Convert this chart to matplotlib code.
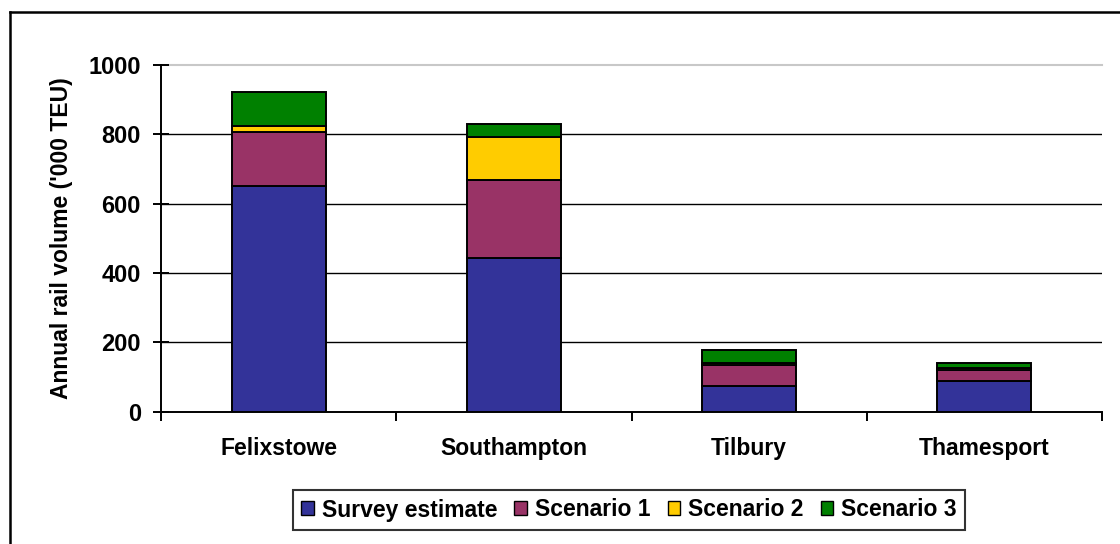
import matplotlib
matplotlib.use("Agg")
import matplotlib.pyplot as plt
from matplotlib.lines import Line2D
import numpy as np

plt.rcParams['font.family'] = ['Liberation Sans', 'DejaVu Sans']
plt.rcParams['font.weight'] = 'bold'

ports = ["Felixstowe", "Southampton", "Tilbury", "Thamesport"]
series_names = ["Survey estimate", "Scenario 1", "Scenario 2", "Scenario 3"]
survey = [651, 443, 73, 89]
scen1 = [157, 225, 62, 31]
scen2 = [16, 125, 6, 6]
scen3 = [98, 36, 37, 15]
colors = ["#333399", "#993366", "#FFCC00", "#008000"]
yticks = [0, 200, 400, 600, 800, 1000]

W, H = 1120, 544
fig = plt.figure(figsize=(W / 100, H / 100), dpi=100)
ax = fig.add_axes([161 / W, 1 - 411.7 / H, (1102 - 161) / W, (411.7 - 65) / H])

x = np.arange(len(ports))
bottom = np.zeros(len(ports))
handles = []
for vals, c, name in zip([survey, scen1, scen2, scen3], colors, series_names):
    b = ax.bar(x, vals, width=0.4, bottom=bottom, color=c, edgecolor='black',
               linewidth=1.4, label=name, zorder=3)
    handles.append(b)
    bottom += np.array(vals)

ax.set_xlim(-0.5, len(ports) - 0.5)
ax.set_ylim(0, 1000)
ax.set_yticks(yticks)
ax.set_yticklabels([str(v) for v in yticks], fontsize=17, fontweight='bold')
for v in yticks[1:-1]:
    ax.axhline(v, color='black', linewidth=1.0, zorder=1)
ax.axhline(1000, color='#c8c8c8', linewidth=1.5, zorder=1, clip_on=False)

ax.set_xticks(x)
ax.set_xticklabels(ports, fontsize=16.5, fontweight='bold')
ax.tick_params(axis='x', length=0, pad=18)
ax.set_xticks(np.arange(len(ports) + 1) - 0.5, minor=True)
ax.tick_params(axis='x', which='minor', length=6.5, width=1.4, direction='out')
ax.tick_params(axis='y', length=11, width=1.4, direction='inout', pad=9)

for s in ['top', 'right']:
    ax.spines[s].set_visible(False)
ax.spines['left'].set_linewidth(1.4)
ax.spines['bottom'].set_linewidth(1.4)

ax.set_ylabel("Annual rail volume ('000 TEU)", fontsize=16.5, fontweight='bold', labelpad=11)

leg = fig.legend(handles=handles, labels=series_names, loc='center',
                 bbox_to_anchor=(629 / W, 1 - 510 / H), ncol=4, frameon=True,
                 fancybox=False, edgecolor='black',
                 handlelength=0.55, handleheight=0.55, handletextpad=0.35,
                 columnspacing=0.75, borderpad=0.35, borderaxespad=0,
                 prop={'weight': 'bold', 'size': 16.5})
leg.get_frame().set_linewidth(1.5)
for p in leg.get_patches():
    p.set_linewidth(1.0)

fig.add_artist(Line2D([9.5 / W, 9.5 / W], [0, 1 - 12 / H], color='black', linewidth=1.8))
fig.add_artist(Line2D([9.5 / W, 1], [1 - 12 / H, 1 - 12 / H], color='black', linewidth=1.8))

fig.savefig("out.png", dpi=100)
